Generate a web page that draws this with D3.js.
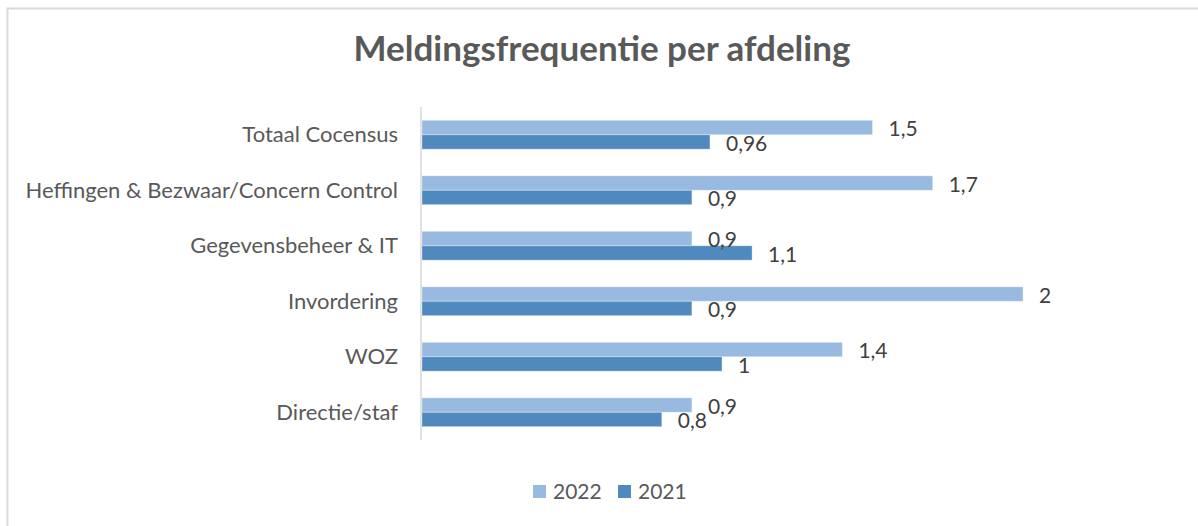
<!DOCTYPE html>
<html><head><meta charset="utf-8">
<script src="https://cdn.jsdelivr.net/npm/d3@7"></script>
<style>body{margin:0;background:#fff;}svg{display:block;}</style>
</head><body>
<svg id="chart" width="1198" height="526"></svg>
<script>
const categories = ["Totaal Cocensus","Heffingen & Bezwaar/Concern Control","Gegevensbeheer & IT","Invordering","WOZ","Directie/staf"];
const series = ["2022","2021"];
const values2022 = [1.5,1.7,0.9,2,1.4,0.9];
const values2021 = [0.96,0.9,1.1,0.9,1,0.8];
const labels2022 = ["1,5","1,7","0,9","2","1,4","0,9"];
const labels2021 = ["0,96","0,9","1,1","0,9","1","0,8"];
const colors = {"2022":"#98b9e0","2021":"#4f89bd"};
const font = "Lato, 'Open Sans', sans-serif";

const svg = d3.select("#chart");
svg.append("rect").attr("x",7.5).attr("y",8.5).attr("width",1200).attr("height",530)
  .attr("fill","#fff").attr("stroke","#d9d9d9").attr("stroke-width",2);

svg.append("text").attr("x",602).attr("y",61).attr("text-anchor","middle")
  .attr("font-family",font).attr("font-weight","bold").attr("font-size",35)
  .attr("fill","#595959").text("Meldingsfrequentie per afdeling");

const x = d3.scaleLinear().domain([0,2]).range([421,1023]);
const y = d3.scaleBand().domain(categories).range([107,440]).paddingInner(0.48).paddingOuter(0.24);
const ys = d3.scaleBand().domain(series).range([0,y.bandwidth()]);

const data = [];
categories.forEach((c,i)=>{
  data.push({c, s:"2022", v:values2022[i], l:labels2022[i]});
  data.push({c, s:"2021", v:values2021[i], l:labels2021[i]});
});

svg.append("g").selectAll("rect").data(data).join("rect")
  .attr("x",x(0)+1).attr("y",d=>y(d.c)+ys(d.s))
  .attr("width",d=>x(d.v)-x(0)-1).attr("height",ys.bandwidth())
  .attr("fill",d=>colors[d.s]).attr("stroke","#ffffff").attr("stroke-opacity",0.35).attr("stroke-width",1);

svg.append("line").attr("x1",x(0)).attr("x2",x(0)).attr("y1",107).attr("y2",440)
  .attr("stroke","#d9d9d9").attr("stroke-width",1.5);

svg.append("g").selectAll("text").data(data).join("text")
  .attr("x",d=>x(d.v)+16).attr("y",d=>y(d.c)+ys(d.s)+ys.bandwidth()/2+1.5)
  .attr("dy","0.35em").attr("font-family",font).attr("font-size",21).attr("fill","#404040")
  .text(d=>d.l);

svg.append("g").selectAll("text").data(categories).join("text")
  .attr("x",398).attr("y",d=>y(d)+y.bandwidth()/2)
  .attr("dy","0.35em").attr("text-anchor","end").attr("font-family",font).attr("font-size",22)
  .attr("fill","#595959").text(d=>d);

const lx = d3.scaleOrdinal().domain(series).range([533,618]);
const lg = svg.append("g").selectAll("g").data(series).join("g");
lg.append("rect").attr("x",d=>lx(d)).attr("y",485).attr("width",13).attr("height",13).attr("fill",d=>colors[d]);
lg.append("text").attr("x",d=>lx(d)+20).attr("y",499).attr("font-family",font).attr("font-size",21)
  .attr("fill","#595959").text(d=>d);
</script>
</body></html>
